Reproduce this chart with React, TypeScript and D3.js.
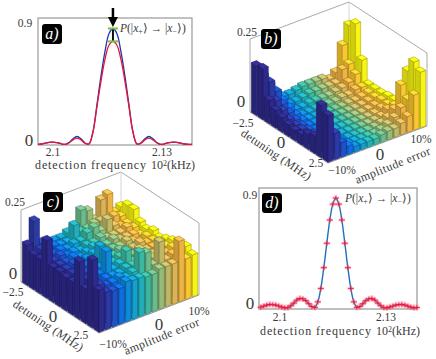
import * as d3 from 'd3';
import React from 'react';

// panel a: two simulated curves
const freqA = [2.0956, 2.0967, 2.0978, 2.0989, 2.1, 2.1011, 2.1022, 2.1033, 2.1044, 2.1055, 2.1066, 2.1077, 2.1088, 2.1099, 2.111, 2.1121, 2.1132, 2.1143, 2.1154, 2.1165, 2.1176, 2.1187, 2.1198, 2.1209, 2.122, 2.1231, 2.1242, 2.1253, 2.1264, 2.1275, 2.1286, 2.1297, 2.1308, 2.1319, 2.133, 2.1341, 2.1352, 2.1363, 2.1374, 2.1385];
const blueA = [0.001, 0.004, 0.01, 0.017, 0.019, 0.014, 0.006, 0, 0.015, 0.045, 0.062, 0.045, 0.012, 0.004, 0.1, 0.31, 0.53, 0.72, 0.86, 0.9, 0.86, 0.72, 0.53, 0.31, 0.1, 0.004, 0.012, 0.045, 0.062, 0.045, 0.015, 0, 0.006, 0.014, 0.019, 0.017, 0.01, 0.004, 0.001, 0];
const redA = [0.001, 0.004, 0.01, 0.017, 0.019, 0.014, 0.006, 0, 0.012, 0.036, 0.05, 0.036, 0.01, 0.004, 0.095, 0.295, 0.49, 0.66, 0.77, 0.8, 0.77, 0.66, 0.49, 0.295, 0.095, 0.004, 0.01, 0.036, 0.05, 0.036, 0.012, 0, 0.006, 0.014, 0.019, 0.017, 0.01, 0.004, 0.001, 0];

// panel d: curve with measured points on top
const freqD = [2.09455, 2.0954, 2.09625, 2.0971, 2.09795, 2.0988, 2.09965, 2.1005, 2.10135, 2.1022, 2.10305, 2.1039, 2.10475, 2.1056, 2.10645, 2.1073, 2.10815, 2.109, 2.10985, 2.1107, 2.11155, 2.1124, 2.11325, 2.1141, 2.11495, 2.1158, 2.11665, 2.1175, 2.11835, 2.1192, 2.12005, 2.1209, 2.12175, 2.1226, 2.12345, 2.1243, 2.12515, 2.126, 2.12685, 2.1277, 2.12855, 2.1294, 2.13025, 2.1311, 2.13195, 2.1328, 2.13365, 2.1345, 2.13535, 2.1362, 2.13705, 2.1379, 2.13875];
const probD = [0.007, 0.015, 0.024, 0.029, 0.028, 0.024, 0.016, 0.008, 0.002, 0.003, 0.018, 0.04, 0.065, 0.078, 0.075, 0.06, 0.035, 0.012, 0.005, 0.05, 0.16, 0.33, 0.53, 0.72, 0.85, 0.9, 0.85, 0.72, 0.53, 0.33, 0.16, 0.05, 0.005, 0.012, 0.035, 0.06, 0.075, 0.078, 0.065, 0.04, 0.018, 0.003, 0.002, 0.008, 0.016, 0.024, 0.028, 0.029, 0.024, 0.015, 0.007, 0.002, 0.004];

// bar heights, rows = detuning (-2.5 to 2.5), columns = amplitude error (-10% to 10%)
const heightsB = [
  [0.17, 0.13, 0.09, 0.05, 0.03, 0.03, 0.035, 0.04, 0.04, 0.04, 0.04, 0.03, 0.045, 0.13, 0.19],
  [0.175, 0.12, 0.08, 0.04, 0.02, 0.02, 0.025, 0.03, 0.03, 0.03, 0.03, 0.03, 0.07, 0.08, 0.21],
  [0.08, 0.07, 0.05, 0.03, 0.015, 0.015, 0.02, 0.02, 0.02, 0.02, 0.025, 0.03, 0.04, 0.06, 0.1],
  [0.06, 0.05, 0.035, 0.02, 0.012, 0.012, 0.015, 0.015, 0.015, 0.015, 0.02, 0.02, 0.03, 0.03, 0.03],
  [0.05, 0.035, 0.025, 0.015, 0.012, 0.012, 0.012, 0.012, 0.012, 0.012, 0.015, 0.015, 0.02, 0.025, 0.03],
  [0.04, 0.03, 0.02, 0.012, 0.012, 0.012, 0.012, 0.012, 0.012, 0.012, 0.012, 0.015, 0.02, 0.025, 0.03],
  [0.035, 0.03, 0.02, 0.012, 0.012, 0.012, 0.012, 0.012, 0.012, 0.012, 0.012, 0.015, 0.02, 0.03, 0.035],
  [0.035, 0.03, 0.02, 0.012, 0.012, 0.012, 0.012, 0.012, 0.012, 0.012, 0.012, 0.015, 0.025, 0.03, 0.035],
  [0.05, 0.03, 0.02, 0.015, 0.012, 0.012, 0.012, 0.012, 0.012, 0.012, 0.015, 0.02, 0.035, 0.04, 0.05],
  [0.06, 0.04, 0.025, 0.015, 0.012, 0.012, 0.012, 0.012, 0.012, 0.015, 0.02, 0.03, 0.05, 0.125, 0.165],
  [0.18, 0.1, 0.06, 0.03, 0.015, 0.015, 0.015, 0.015, 0.015, 0.02, 0.03, 0.045, 0.07, 0.09, 0.21],
  [0.16, 0.09, 0.05, 0.03, 0.02, 0.02, 0.02, 0.02, 0.025, 0.03, 0.03, 0.04, 0.055, 0.12, 0.19],
];
const heightsC = [
  [0.14, 0.215, 0.13, 0.12, 0.12, 0.12, 0.13, 0.14, 0.19, 0.18, 0.14, 0.2, 0.21, 0.14, 0.15],
  [0.12, 0.13, 0.13, 0.125, 0.12, 0.12, 0.17, 0.14, 0.14, 0.15, 0.15, 0.14, 0.15, 0.14, 0.17],
  [0.12, 0.13, 0.12, 0.125, 0.12, 0.13, 0.13, 0.15, 0.16, 0.14, 0.17, 0.14, 0.13, 0.13, 0.17],
  [0.2, 0.12, 0.13, 0.12, 0.125, 0.12, 0.13, 0.13, 0.14, 0.13, 0.13, 0.13, 0.14, 0.13, 0.14],
  [0.12, 0.12, 0.12, 0.13, 0.12, 0.13, 0.14, 0.13, 0.13, 0.14, 0.13, 0.13, 0.13, 0.12, 0.13],
  [0.12, 0.12, 0.13, 0.12, 0.13, 0.14, 0.13, 0.13, 0.13, 0.13, 0.14, 0.13, 0.12, 0.13, 0.14],
  [0.115, 0.12, 0.12, 0.13, 0.12, 0.18, 0.13, 0.13, 0.14, 0.13, 0.13, 0.14, 0.13, 0.13, 0.13],
  [0.115, 0.12, 0.13, 0.12, 0.13, 0.13, 0.13, 0.14, 0.13, 0.13, 0.14, 0.13, 0.13, 0.14, 0.14],
  [0.2, 0.13, 0.12, 0.13, 0.2, 0.13, 0.14, 0.175, 0.13, 0.14, 0.13, 0.13, 0.14, 0.14, 0.15],
  [0.12, 0.13, 0.12, 0.13, 0.13, 0.13, 0.14, 0.14, 0.16, 0.13, 0.14, 0.13, 0.14, 0.15, 0.15],
  [0.235, 0.14, 0.13, 0.13, 0.14, 0.13, 0.14, 0.2, 0.19, 0.14, 0.21, 0.14, 0.15, 0.15, 0.16],
  [0.145, 0.13, 0.125, 0.125, 0.14, 0.135, 0.135, 0.13, 0.13, 0.14, 0.14, 0.14, 0.21, 0.14, 0.145],
];

const parulaStops = ['#2e2a8c', '#2b3fb0', '#1167e0', '#0f8fd8', '#17abc4', '#3cb8a0', '#7dbd84', '#b8b86a', '#e0b250', '#fbb43a', '#f8f510'];
const parula = d3.scaleLinear<string>()
  .domain(parulaStops.map((_, i) => i / (parulaStops.length - 1)))
  .range(parulaStops)
  .interpolate(d3.interpolateRgb);

const serif = '"Liberation Serif", serif';
const inkColor = '#3a3a3a';

type Corner = { x: number; y: number };

const Txt = ({ x, y, size = 11.5, anchor = 'middle', rotate = 0, len, children }: any) => (
  <text
    x={x} y={y} fontFamily={serif} fontSize={size} fill={inkColor} textAnchor={anchor}
    textLength={len} lengthAdjust={len ? 'spacing' : undefined}
    transform={rotate ? `rotate(${rotate} ${x} ${y})` : undefined}
  >{children}</text>
);

const Badge = ({ x, y, label }: { x: number; y: number; label: string }) => (
  <g>
    <rect x={x} y={y} width={20} height={20} rx={3} fill="#000" />
    <text x={x + 10} y={y + 14.5} fontFamily={serif} fontStyle="italic" fontSize={16} fill="#fff" textAnchor="middle">{label}</text>
  </g>
);

const ProbLabel = ({ x, y }: { x: number; y: number }) => (
  <text x={x} y={y} fontFamily={serif} fontSize={11.5} fill={inkColor}>
    <tspan fontStyle="italic">P</tspan>(|<tspan fontStyle="italic">x</tspan>
    <tspan dy={2} fontSize={8}>+</tspan><tspan dy={-2}>⟩ → |</tspan>
    <tspan fontStyle="italic">x</tspan><tspan dy={2} fontSize={8}>−</tspan><tspan dy={-2}>⟩)</tspan>
  </text>
);

const FreqLabel = ({ x, y, x2 }: { x: number; y: number; x2: number }) => (
  <g>
    <Txt x={x} y={y} size={12} anchor="start" len={111}>detection frequency</Txt>
    <text x={x2} y={y} fontFamily={serif} fontSize={12} fill={inkColor}>
      10<tspan dy={-3} fontSize={8}>2</tspan><tspan dy={3}>(kHz)</tspan>
    </text>
  </g>
);

// oblique projection of the bar grid: left, front and right floor corners plus wall height
const Bars3D = ({ heights, left, front, right, zPx }: { heights: number[][]; left: Corner; front: Corner; right: Corner; zPx: number }) => {
  const nD = heights.length;
  const nA = heights[0].length;
  const dScale = d3.scaleLinear().domain([0, nD]).range([0, 1]);
  const aScale = d3.scaleLinear().domain([0, nA]).range([0, 1]);
  const zScale = d3.scaleLinear().domain([0, 0.25]).range([0, zPx]);
  const project = (d: number, a: number, z: number): [number, number] => [
    left.x + dScale(d) * (front.x - left.x) + aScale(a) * (right.x - front.x),
    left.y + dScale(d) * (front.y - left.y) + aScale(a) * (right.y - front.y) - zScale(z),
  ];
  const poly = d3.line();
  const back = project(0, nA, 0);
  const backTop = project(0, nA, 0.25);
  const leftTop = project(0, 0, 0.25);
  const rightTop = project(nD, nA, 0.25);
  const rightBase = project(nD, nA, 0);
  const w = 0.4;
  const bars: React.ReactNode[] = [];
  // painter's order, back corner first
  for (let d = 0; d < nD; d++) {
    for (let a = nA - 1; a >= 0; a--) {
      const h = heights[d][a];
      const c = d3.color(parula(a / (nA - 1)))!;
      const d0 = d + 0.5 - w, d1 = d + 0.5 + w, a0 = a + 0.5 - w, a1 = a + 0.5 + w;
      const top = poly([project(d0, a0, h), project(d1, a0, h), project(d1, a1, h), project(d0, a1, h)])! + 'Z';
      const faceL = poly([project(d0, a0, h), project(d1, a0, h), project(d1, a0, 0), project(d0, a0, 0)])! + 'Z';
      const faceR = poly([project(d1, a0, h), project(d1, a1, h), project(d1, a1, 0), project(d1, a0, 0)])! + 'Z';
      const edge = c.darker(1.4).formatHex();
      bars.push(
        <g key={`${d}-${a}`} stroke={edge} strokeWidth={0.5} strokeLinejoin="round">
          <path d={faceL} fill={c.darker(0.5).formatHex()} />
          <path d={faceR} fill={c.formatHex()} />
          <path d={top} fill={c.brighter(0.35).formatHex()} />
        </g>
      );
    }
  }
  return (
    <g>
      <path
        d={poly([project(0, 0, 0), leftTop, backTop, rightTop, rightBase])!}
        fill="none" stroke="#aaa" strokeWidth={1}
      />
      <path d={poly([backTop, back])!} fill="none" stroke="#ccc" strokeWidth={0.8} />
      <path d={poly([project(0, 0, 0), back, rightBase])!} fill="#ddd" stroke="#bbb" strokeWidth={0.5} />
      <path d={poly([project(0, 0, 0), project(nD, 0, 0), rightBase])!} fill="none" stroke="#999" strokeWidth={1} />
      {bars}
    </g>
  );
};

const PanelA = () => {
  const x = d3.scaleLinear().domain([2.1, 2.13]).range([53, 162]);
  const y = d3.scaleLinear().domain([0, 0.9]).range([144.5, 28.5]);
  const line = d3.line<number>().x((_, i) => x(freqA[i])).y(v => y(v)).curve(d3.curveCatmullRom);
  const cx = x(freqA[19]);
  const yBlue = y(blueA[19]);
  const yRed = y(redA[19]);
  return (
    <g>
      <defs>
        <clipPath id="clipA"><rect x={38} y={18} width={154} height={127} /></clipPath>
      </defs>
      <rect x={38} y={18} width={154} height={127} fill="#fff" stroke="#999" strokeWidth={1.2} />
      <g clipPath="url(#clipA)" fill="none">
        <path d={line(blueA)!} stroke="#1f3aa8" strokeWidth={1.3} />
        <path d={line(redA)!} stroke="#ee1133" strokeWidth={1.3} />
      </g>
      <line x1={cx} x2={cx} y1={yBlue} y2={yRed} stroke="#111" strokeWidth={2} />
      <line x1={cx - 5} x2={cx + 5} y1={yBlue} y2={yBlue} stroke="#7ac043" strokeWidth={2} />
      <line x1={cx - 5} x2={cx + 5} y1={yRed} y2={yRed} stroke="#7ac043" strokeWidth={2} />
      <line x1={cx} x2={cx} y1={8} y2={20} stroke="#000" strokeWidth={2.5} />
      <path d={d3.line()([[cx - 5, 17], [cx + 5, 17], [cx, 27]])! + 'Z'} fill="#000" />
      <Badge x={42} y={24} label="a)" />
      <ProbLabel x={120} y={32} />
      <Txt x={25} y={27}>0.9</Txt>
      <Txt x={29} y={146} size={17}>0</Txt>
      <Txt x={x(2.1)} y={155.5}>2.1</Txt>
      <Txt x={x(2.13)} y={155.5}>2.13</Txt>
      <FreqLabel x={35} y={169} x2={151} />
    </g>
  );
};

const PanelD = () => {
  const x = d3.scaleLinear().domain([2.1, 2.13]).range([280, 386]);
  const y = d3.scaleLinear().domain([0, 0.9]).range([308, 198]);
  const line = d3.line<number>().x((_, i) => x(freqD[i])).y(v => y(v)).curve(d3.curveCatmullRom);
  return (
    <g>
      <rect x={259} y={188} width={158} height={121} fill="#fff" stroke="#aaa" strokeWidth={1.5} />
      <path d={line(probD)!} fill="none" stroke="#1f6fc0" strokeWidth={1.4} />
      {probD.map((v, i) => {
        const px = x(freqD[i]), py = y(v);
        return (
          <g key={i}>
            <path d={`M${px - 3.2},${py}H${px + 3.2}M${px},${py - 3.2}V${py + 3.2}`} stroke="#ff5577" strokeOpacity={0.4} strokeWidth={2.6} fill="none" />
            <path d={`M${px - 3},${py}H${px + 3}M${px},${py - 2}V${py + 2}`} stroke="#e8102e" strokeWidth={0.8} fill="none" />
          </g>
        );
      })}
      <Badge x={262} y={193} label="d)" />
      <ProbLabel x={345} y={202} />
      <Txt x={250} y={199}>0.9</Txt>
      <Txt x={250} y={309} size={17}>0</Txt>
      <Txt x={x(2.1)} y={321}>2.1</Txt>
      <Txt x={x(2.13)} y={321}>2.13</Txt>
      <FreqLabel x={260} y={335} x2={376} />
    </g>
  );
};

const PanelB = () => (
  <g>
    <Bars3D heights={heightsB} left={{ x: 250, y: 112 }} front={{ x: 328, y: 163 }} right={{ x: 427, y: 126 }} zPx={73} />
    <Badge x={261} y={29} label="b)" />
    <Txt x={247} y={36}>0.25</Txt>
    <Txt x={241} y={107} size={17}>0</Txt>
    <Txt x={243} y={127}>−2.5</Txt>
    <Txt x={281} y={148} size={17}>0</Txt>
    <Txt x={316} y={167}>2.5</Txt>
    <Txt x={342} y={174}>−10%</Txt>
    <Txt x={380} y={160} size={17}>0</Txt>
    <Txt x={421} y={143}>10%</Txt>
    <Txt x={240} y={135} size={12} anchor="start" rotate={34} len={82}>detuning (MHz)</Txt>
    <Txt x={357} y={184} size={12} anchor="start" rotate={-22} len={80}>amplitude error</Txt>
  </g>
);

const PanelC = () => (
  <g>
    <Bars3D heights={heightsC} left={{ x: 21, y: 282 }} front={{ x: 99, y: 333 }} right={{ x: 199, y: 295 }} zPx={72} />
    <Badge x={43} y={192} label="c)" />
    <Txt x={15} y={206}>0.25</Txt>
    <Txt x={13} y={279} size={17}>0</Txt>
    <Txt x={13} y={296}>−2.5</Txt>
    <Txt x={53} y={322} size={17}>0</Txt>
    <Txt x={81} y={339}>2.5</Txt>
    <Txt x={113} y={348}>−10%</Txt>
    <Txt x={159} y={330} size={17}>0</Txt>
    <Txt x={199} y={315}>10%</Txt>
    <Txt x={12} y={306} size={12} anchor="start" rotate={34} len={82}>detuning (MHz)</Txt>
    <Txt x={126} y={355} size={12} anchor="start" rotate={-22} len={80}>amplitude error</Txt>
  </g>
);

export default function App() {
  return (
    <svg width={436} height={359} viewBox="0 0 436 359" style={{ position: 'absolute', left: 0, top: 0, background: '#fff' }}>
      <PanelC />
      <PanelB />
      <PanelA />
      <PanelD />
    </svg>
  );
}
